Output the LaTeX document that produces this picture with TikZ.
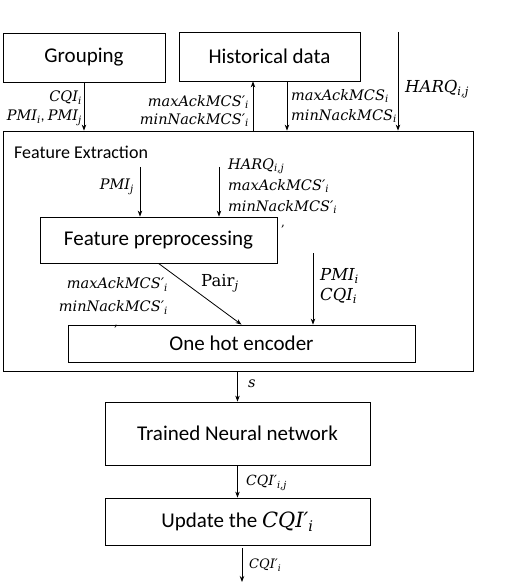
\documentclass[tikz,border=0pt]{standalone}
\usepackage{fontspec}
\setmainfont{Carlito}
\newfontfamily\camf{DejaVu Serif}
\newcommand\vv[2]{{\camf\itshape #1\textsubscript{#2}}}
\newcommand\pr{\symbol{"2032}}
\usetikzlibrary{arrows.meta,calc}
\tikzset{
  box/.style={draw, line width=0.8pt, inner sep=0pt, font=\fontsize{21}{25}\selectfont},
  arr/.style={line width=0.8pt, -{Stealth[length=6pt,width=4.5pt]}},
  lbl/.style={inner sep=0pt, font=\fontsize{14.5}{19}\selectfont},
  lblb/.style={inner sep=0pt, font=\fontsize{16.5}{20}\selectfont},
  straymark/.style={inner sep=0pt, text height=2.5pt, text depth=2.5pt, font=\fontsize{12}{14}\selectfont},
}
\begin{document}
\begin{tikzpicture}[x=1pt,y=-1pt]
\useasboundingbox (0,0) rectangle (510,585);
% boxes
\node[box, minimum width=162pt, minimum height=49pt] (grp) at (84,57.5) {Grouping};
\node[box, minimum width=181pt, minimum height=49pt] (hist) at (269.5,56.5) {Historical data};
\node[draw, line width=0.8pt, minimum width=470pt, minimum height=240pt, inner sep=0pt] (fe) at (238,251) {};
\node[inner sep=0pt, anchor=west, font=\fontsize{18}{21}\selectfont] (fel) at (14,152) {Feature Extraction};
\node[box, minimum width=237pt, minimum height=46pt] (fp) at (158.5,240) {Feature preprocessing};
\node[box, minimum width=347pt, minimum height=37pt] (ohe) at (241.5,343.5) {One hot encoder};
\node[box, minimum width=265pt, minimum height=63pt] (tnn) at (237.5,433.5) {Trained Neural network};
\node[box, minimum width=265pt, minimum height=47pt] (upd) at (237.5,521.5) {Update the \vv{CQI\pr}{i}};
% helper coordinates
\coordinate (hu) at (253,0);
\coordinate (hd) at (287,0);
\coordinate (harqtop) at (398,32);
\coordinate (pj) at (140,167);
\coordinate (hq) at (219,167);
\coordinate (pc) at (313,253);
\coordinate (outend) at (242,582);
% connectors
\draw[arr] (grp.south) -- (grp.south |- fe.north);
\draw[arr] (hu |- fe.north) -- (hu |- hist.south);
\draw[arr] (hd |- hist.south) -- (hd |- fe.north);
\draw[arr] (harqtop) -- (harqtop |- fe.north);
\draw[arr] (pj) -- (pj |- fp.north);
\draw[arr] (hq) -- (hq |- fp.north);
\draw[arr] (fp.south) -- (ohe.north);
\draw[arr] (pc) -- (pc |- ohe.north);
\draw[arr] (tnn.north |- fe.south) -- (tnn.north);
\draw[arr] (tnn.south) -- (upd.north);
\draw[arr, shorten <=3pt] (upd.south -| outend) -- (outend);
% labels
\node[lbl, anchor=east, align=right] (l1) at (82,108) {\vv{CQI}{i}\\\vv{PMI}{i}, \vv{PMI}{j}};
\node[lbl, anchor=east, align=right, font=\fontsize{14.5}{18}\selectfont] (l3) at (249,111) {\vv{maxAckMCS\pr}{i}\\\vv{minNackMCS\pr}{i}};
\node[lbl, anchor=west, align=left, font=\fontsize{14.5}{20}\selectfont] (l5) at (291,106) {\vv{maxAckMCS}{i}\\\vv{minNackMCS}{i}};
\node[lblb, anchor=west] (l7) at (405,89) {\vv{HARQ}{i,j}};
\node[lbl, anchor=east] (l8) at (134,187) {\vv{PMI}{j}};
\node[lbl, anchor=west, align=left, font=\fontsize{14.5}{21}\selectfont] (l9) at (228,186) {\vv{HARQ}{i,j}\\\vv{maxAckMCS\pr}{i}\\\vv{minNackMCS\pr}{i}};
\node[straymark] (l12) at (283,226) {\camf ,};
\node[lblb, anchor=west] (l13) at (201,283) {{\camf Pair}\textsubscript{\camf\itshape j}};
\node[lblb, anchor=west, align=left] (l14) at (320,286) {\vv{PMI}{i}\\\vv{CQI}{i}};
\node[lbl, anchor=east, align=right, font=\fontsize{14.5}{23}\selectfont] (l16) at (168,296) {\vv{maxAckMCS\pr}{i}\\\vv{minNackMCS\pr}{i}};
\node[straymark] (l18) at (116,326) {\camf ,};
\node[lbl, anchor=west] (l19) at (248,385) {\vv{s}{}};
\node[lbl, anchor=west, font=\fontsize{14}{16}\selectfont] (l20) at (246,483) {\vv{CQI\pr}{i,j}};
\node[lbl, anchor=west, font=\fontsize{13}{16}\selectfont] (l21) at (249,565) {\vv{CQI\pr}{i}};
\end{tikzpicture}
\end{document}
